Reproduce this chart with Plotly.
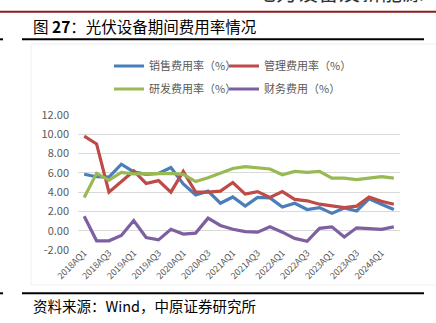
import plotly.graph_objects as go

years = [2018, 2019, 2020, 2021, 2022, 2023, 2024]
categories = []
for y in years:
    for q in range(1, 5):
        categories.append(f"{y}AQ{q}")
categories = categories[:26]  # 2018AQ1 .. 2024AQ2

sales = [5.85, 5.6, 5.55, 6.9, 6.1, 5.85, 5.95, 6.55, 4.85, 3.7, 4.1, 2.85, 3.5,
         2.55, 3.45, 3.4, 2.45, 2.85, 2.2, 2.4, 1.8, 2.35, 2.05, 3.3, 2.75, 2.2]
admin = [9.8, 9.0, 4.0, 5.1, 6.2, 4.9, 5.2, 4.0, 6.15, 4.0, 4.0, 4.1, 5.0,
         3.8, 4.05, 3.45, 4.05, 3.25, 3.1, 2.75, 2.55, 2.4, 2.55, 3.5, 3.05, 2.75]
rnd = [3.45, 5.95, 5.25, 6.05, 5.9, 5.9, 5.95, 5.95, 5.85, 5.1, 5.5, 6.0, 6.45,
       6.65, 6.55, 6.4, 5.8, 6.15, 6.05, 6.15, 5.45, 5.45, 5.3, 5.45, 5.6, 5.45]
fin = [1.5, -1.05, -1.05, -0.5, 1.05, -0.7, -0.95, 0.15, -0.35, -0.25, 1.3, 0.55, 0.15,
       -0.1, -0.15, 0.4, -0.15, -0.8, -1.1, 0.25, 0.4, -0.65, 0.3, 0.25, 0.15, 0.4]

series_names = ["销售费用率（%）", "管理费用率（%）", "研发费用率（%）", "财务费用（%）"]
series_colors = ["#4A7EBB", "#BE4B48", "#98B954", "#7D60A0"]
series_values = [sales, admin, rnd, fin]
legend_ids = ["legend", "legend2", "legend3", "legend4"]

y_ticks = [-2, 0, 2, 4, 6, 8, 10, 12]

W, H = 436, 323
L, R, T, B = 78, 36, 115, 73
PW, PH = W - L - R, H - T - B


def px(x):
    return (x - L) / PW


def py(y):
    return (H - B - y) / PH


CJK = "Noto Sans CJK SC"
GREY = "#595959"

fig = go.Figure()
for name, vals, col, lg in zip(series_names, series_values, series_colors, legend_ids):
    fig.add_trace(go.Scatter(
        x=categories, y=vals, mode="lines", name=name, legend=lg,
        line=dict(color=col, width=3.2, shape="linear"),
        hoverinfo="skip",
    ))

legend_pos = [(109, 66), (224, 66), (109, 89), (224, 89)]
for lg, (lx, ly) in zip(legend_ids, legend_pos):
    fig.update_layout({lg: dict(
        x=px(lx), y=py(ly), xanchor="left", yanchor="middle",
        font=dict(family=CJK, size=11, color=GREY), bgcolor="rgba(0,0,0,0)",
        itemwidth=30, borderwidth=0)})

fig.update_layout(
    width=W, height=H, autosize=False,
    margin=dict(l=L, r=R, t=T, b=B, pad=0),
    paper_bgcolor="white", plot_bgcolor="white",
    font=dict(family=CJK, color=GREY, size=11),
    showlegend=True,
    xaxis=dict(type="category", range=[-0.5, len(categories) - 0.5],
               tickmode="array", tickvals=categories[::2], ticktext=categories[::2],
               tickangle=-45, showgrid=False, zeroline=False, showline=False,
               ticks="", ticklabelstandoff=-5,
               tickfont=dict(family=CJK, size=9, color=GREY)),
    yaxis=dict(range=[-2, 12], tickmode="array", tickvals=y_ticks,
               ticktext=[f"{v:.2f}" for v in y_ticks],
               showgrid=True, gridcolor="#D9D9D9", gridwidth=1.3, zeroline=False,
               showline=False, ticks="", ticklabelstandoff=8,
               tickfont=dict(family=CJK, size=11, color=GREY)),
)

shapes = [
    # chart frame (very faint)
    dict(type="rect", xref="paper", yref="paper", x0=px(31), x1=px(445), y0=py(285), y1=py(44),
         line=dict(color="#EFEFEF", width=1), fillcolor="rgba(0,0,0,0)", layer="below"),
    # top dark red rule
    dict(type="line", xref="paper", yref="paper", x0=px(0), x1=px(436), y0=py(11.7), y1=py(11.7),
         line=dict(color="#8E1B1B", width=2)),
    # rule under title
    dict(type="line", xref="paper", yref="paper", x0=px(22), x1=px(424), y0=py(39.3), y1=py(39.3),
         line=dict(color="black", width=2)),
    dict(type="line", xref="paper", yref="paper", x0=px(0), x1=px(3), y0=py(39.3), y1=py(39.3),
         line=dict(color="black", width=2)),
    # rule above source
    dict(type="line", xref="paper", yref="paper", x0=px(22), x1=px(424), y0=py(293.3), y1=py(293.3),
         line=dict(color="black", width=2)),
    dict(type="line", xref="paper", yref="paper", x0=px(0), x1=px(3), y0=py(293.3), y1=py(293.3),
         line=dict(color="black", width=2)),
]
fig.update_layout(shapes=shapes)

annotations = [
    dict(text="电力设备及新能源", xref="paper", yref="paper", x=px(425), y=py(8),
         xanchor="right", yanchor="bottom", showarrow=False,
         font=dict(family=CJK, size=21, color="#333333")),
    dict(text="图 <b>27</b>：光伏设备期间费用率情况", xref="paper", yref="paper",
         x=px(31), y=py(25.7), xanchor="left", yanchor="middle", showarrow=False,
         font=dict(family=CJK, size=15.5, color="black")),
    dict(text="资料来源：Wind，中原证券研究所", xref="paper", yref="paper",
         x=px(31), y=py(305.5), xanchor="left", yanchor="middle", showarrow=False,
         font=dict(family=CJK, size=14.5, color="black")),
]
fig.update_layout(annotations=annotations)

fig.write_html("out.html")
